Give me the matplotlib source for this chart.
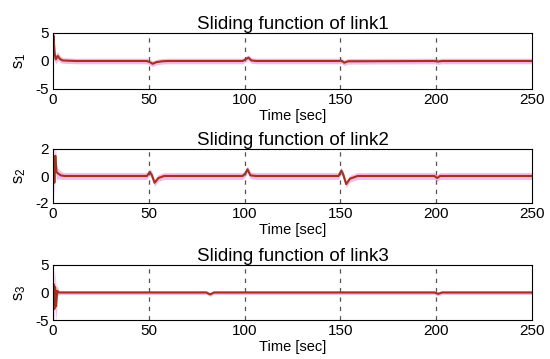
import numpy as np
import matplotlib.pyplot as plt

# time samples and sliding function values
t1 = [0, 0.3, 0.8, 1.5, 2.5, 3.5, 5, 8, 12, 49, 50.5, 52, 54, 57, 60, 99, 100.5, 102, 103.5, 106,
      149, 150.5, 152, 154, 199, 201, 203, 250]
s1 = [0, 4.5, 1.5, 0.3, 0.9, 0.4, 0.1, 0.05, 0, 0, -0.2, -0.5, -0.2, -0.05, 0, 0, 0.3, 0.6, 0.1, 0,
      0, 0.05, -0.3, -0.05, 0, -0.1, 0, 0]
band1 = [0.6, 4.0, 1.5, 0.8, 0.8, 0.6, 0.5, 0.5, 0.5, 0.5, 0.5, 0.5, 0.5, 0.5, 0.5, 0.5, 0.5, 0.5,
         0.5, 0.5, 0.5, 0.5, 0.5, 0.5, 0.5, 0.5, 0.5, 0.5]

t2 = [0, 0.3, 0.7, 1.2, 1.8, 2.5, 4, 6, 10, 49, 50.5, 51.5, 53, 55, 58, 99, 100.5, 101.5, 103, 106,
      149, 150.5, 151.5, 153, 155, 159, 199, 200.5, 202, 250]
s2 = [0, 1.4, -0.5, 1.5, 0.3, 0.2, 0.05, 0, 0, 0, 0.3, 0.1, -0.5, -0.15, 0, 0, 0.2, 0.5, 0.05, 0,
      0, 0.4, 0.1, -0.6, -0.2, 0, 0, -0.15, 0, 0]
band2 = [0.8, 1.5, 1.0, 1.0, 0.6, 0.4, 0.3, 0.25, 0.25, 0.25, 0.25, 0.25, 0.25, 0.25, 0.25, 0.25,
         0.25, 0.25, 0.25, 0.25, 0.25, 0.25, 0.25, 0.25, 0.25, 0.25, 0.25, 0.25, 0.25, 0.25]

t3 = [0, 0.3, 0.7, 1.1, 1.6, 2.2, 3, 5, 80, 82, 84, 199, 201, 203, 250]
s3 = [0, 1.5, -3.0, 1.0, -2.5, 0.3, 0, 0, 0, -0.35, 0, 0, -0.25, 0, 0]
band3 = [2.5, 3.0, 3.0, 3.0, 3.0, 1.0, 0.4, 0.35, 0.35, 0.35, 0.35, 0.35, 0.35, 0.35, 0.35]

titles = ['Sliding function of link1', 'Sliding function of link2', 'Sliding function of link3']
ylabels = ['$s_1$', '$s_2$', '$s_3$']
ylims = [(-5, 5), (-2, 2), (-5, 5)]
yticks = [[-5, 0, 5], [-2, 0, 2], [-5, 0, 5]]
xticks = [0, 50, 100, 150, 200, 250]
vlines = [50, 100, 150, 200]

series = [(t1, s1, band1), (t2, s2, band2), (t3, s3, band3)]

plt.rcParams['font.family'] = ['Liberation Sans', 'DejaVu Sans']
plt.rcParams['axes.unicode_minus'] = False
plt.rcParams['mathtext.fontset'] = 'custom'
plt.rcParams['mathtext.rm'] = 'Liberation Sans'
plt.rcParams['mathtext.it'] = 'Liberation Sans'

fig = plt.figure(figsize=(5.5, 3.59), dpi=100)

# axes boxes in pixel coords (left, top, right, bottom)
boxes = [(53, 33, 532, 89), (53, 149, 532, 203), (53, 265, 532, 320)]
W, H = 550, 359

for i in range(3):
    l, tp, r, b = boxes[i]
    ax = fig.add_axes([l / W, 1 - b / H, (r - l) / W, (b - tp) / H])
    t, s, band = series[i]
    t = np.array(t)
    s = np.array(s)
    band = np.array(band)
    ax.fill_between(t, s - band, s + band, color='#f6b8e6', lw=0)
    ax.plot(t, s, color='#a3321c', lw=1.5)
    for v in vlines:
        ax.axvline(v, color='#555555', ls=(0, (3.5, 4)), lw=0.9)
    ax.set_xlim(0, 250)
    ax.set_ylim(*ylims[i])
    ax.set_xticks(xticks)
    ax.set_yticks(yticks[i])
    ax.tick_params(labelsize=11, direction='in', length=0, pad=3)
    ax.set_title(titles[i], fontsize=13.5, pad=3)
    ax.set_xlabel('Time [sec]', fontsize=10.5, labelpad=1)
    ax.set_ylabel(ylabels[i], fontsize=12, labelpad=5)
    for sp in ax.spines.values():
        sp.set_linewidth(0.8)

fig.savefig('out.png', dpi=100)
